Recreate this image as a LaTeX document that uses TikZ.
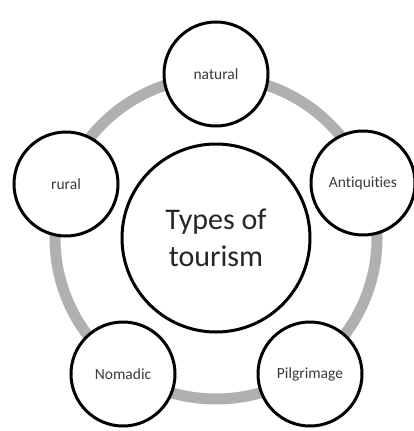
\documentclass[tikz,border=0pt]{standalone}
\usepackage{fontspec}
\setmainfont{Carlito}[Ligatures={NoCommon,NoRare},Contextuals={NoAlternate}]
\definecolor{ringgray}{HTML}{B0B0B0}
\definecolor{txt}{HTML}{3A3A3A}
\tikzset{
  bubble/.style={circle,draw=black,line width=3pt,fill=white,minimum size=104pt,inner sep=0pt,
    font=\fontsize{15.5}{18}\selectfont,text=txt},
  hub/.style={circle,draw=black,line width=3pt,fill=white,minimum size=188pt,inner sep=0pt,
    font=\fontsize{30}{37}\selectfont,text=black!85,align=center},
}
\begin{document}
\begin{tikzpicture}[x=1pt,y=-1pt]
\useasboundingbox (0,0) rectangle (414,431);
\fill[white] (0,0) rectangle (414,431);
\coordinate (c) at (216,238);
\draw[ringgray,line width=11pt] (c) circle[radius=161];
\node[hub] (hub) at (c) {Types of\\tourism};
\node[bubble] (natural) at (216,74) {natural};
\node[bubble] (rural) at (66,184) {rural};
\node[bubble] (antiq) at (363,183) {Antiquities};
\node[bubble] (nomadic) at (123,374) {Nomadic};
\node[bubble] (pilgrim) at (310,374) {Pilgrimage};
\end{tikzpicture}
\end{document}
